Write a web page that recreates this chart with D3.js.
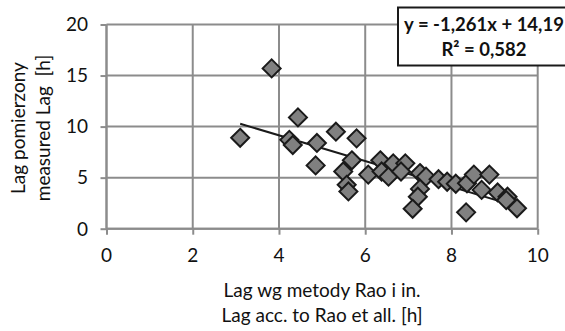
<!DOCTYPE html>
<html>
<head>
<meta charset="utf-8">
<script src="https://cdn.jsdelivr.net/npm/d3@7"></script>
<style>
  body { margin: 0; background: #fff; }
  text { font-family: Lato, "Open Sans", sans-serif; fill: #111; white-space: pre; }
  .grid line { stroke: #8c8c8c; stroke-width: 2; }
  .axis path, .axis line { stroke: #8c8c8c; stroke-width: 2; }
  .tick-label { font-size: 19px; }
  .title { font-size: 19px; }
  .eq { font-size: 18.5px; font-weight: bold; }
</style>
</head>
<body>
<div id="chart"></div>
<script>
// measured lag vs lag by Rao et al.
const lagRao = [3.1, 3.83, 4.44, 4.24, 4.32, 4.88, 4.85, 5.32, 5.8, 5.69, 5.49, 5.57, 5.61,
  6.07, 6.35, 6.38, 6.54, 6.65, 6.93, 6.83, 7.27, 7.41, 7.27, 7.22, 7.1, 7.7, 7.9, 8.1,
  8.36, 8.52, 8.88, 8.7, 9.07, 9.3, 9.27, 9.52, 8.34];
const lagMeasured = [8.9, 15.7, 10.9, 8.7, 8.2, 8.4, 6.2, 9.5, 8.85, 6.7, 5.6, 4.3, 3.65,
  5.3, 6.7, 5.6, 5.1, 6.4, 6.4, 5.6, 5.45, 5.1, 3.9, 3.13, 1.95, 4.85, 4.6, 4.4,
  4.45, 5.3, 5.3, 3.8, 3.55, 3.13, 2.8, 2.0, 1.6];
const xTicks = [0, 2, 4, 6, 8, 10];
const yTicks = [0, 5, 10, 15, 20];
const trendSlope = -1.261;
const trendIntercept = 14.19;
const eqLines = ["y = -1,261x + 14,19", "R² = 0,582"];
const xTitle = ["Lag wg metody Rao i in.", "Lag acc. to Rao et all. [h]"];
const yTitle = ["Lag pomierzony", "measured Lag  [h]"];

const width = 565, height = 331;
const plotLeft = 106.5, plotRight = 537.7, plotTop = 24.5, plotBottom = 228.7;

const x = d3.scaleLinear().domain([0, 10]).range([plotLeft, plotRight]);
const y = d3.scaleLinear().domain([0, 20]).range([plotBottom, plotTop]);

const svg = d3.select("#chart").append("svg")
  .attr("width", width)
  .attr("height", height);

// gridlines
const grid = svg.append("g").attr("class", "grid");
grid.selectAll("line.h").data(yTicks).enter().append("line")
  .attr("class", "h")
  .attr("x1", plotLeft).attr("x2", plotRight)
  .attr("y1", d => y(d)).attr("y2", d => y(d));
grid.selectAll("line.v").data(xTicks).enter().append("line")
  .attr("class", "v")
  .attr("x1", d => x(d)).attr("x2", d => x(d))
  .attr("y1", plotTop).attr("y2", plotBottom);

// axes
const xAxis = svg.append("g").attr("class", "axis")
  .attr("transform", "translate(0," + plotBottom + ")")
  .call(d3.axisBottom(x).tickValues(xTicks).tickSize(6).tickFormat(""));
const yAxis = svg.append("g").attr("class", "axis")
  .attr("transform", "translate(" + plotLeft + ",0)")
  .call(d3.axisLeft(y).tickValues(yTicks).tickSize(6).tickFormat(""));
xAxis.select(".domain").attr("d", "M" + plotLeft + ",0H" + plotRight);
yAxis.select(".domain").attr("d", "M0," + plotTop + "V" + plotBottom);

svg.selectAll("text.xt").data(xTicks).enter().append("text")
  .attr("class", "tick-label")
  .attr("x", d => x(d))
  .attr("y", 262)
  .attr("text-anchor", "middle")
  .text(d => d);

svg.selectAll("text.yt").data(yTicks).enter().append("text")
  .attr("class", "tick-label")
  .attr("x", 88)
  .attr("y", d => y(d))
  .attr("dy", "0.36em")
  .attr("text-anchor", "end")
  .text(d => d);

// trendline over the data range
const xExt = d3.extent(lagRao);
svg.append("line")
  .attr("x1", x(xExt[0])).attr("y1", y(trendSlope * xExt[0] + trendIntercept))
  .attr("x2", x(xExt[1])).attr("y2", y(trendSlope * xExt[1] + trendIntercept))
  .attr("stroke", "#1a1a1a")
  .attr("stroke-width", 2);

// diamonds
const diamond = "M0,-9L9,0L0,9L-9,0Z";
svg.selectAll("path.pt").data(lagRao).enter().append("path")
  .attr("class", "pt")
  .attr("d", diamond)
  .attr("transform", (d, i) => "translate(" + x(d) + "," + y(lagMeasured[i]) + ")")
  .attr("fill", "#808080")
  .attr("stroke", "#1a1a1a")
  .attr("stroke-width", 2);

// equation box
svg.append("rect")
  .attr("x", 398).attr("y", 7.5)
  .attr("width", 172).attr("height", 58)
  .attr("fill", "#fff")
  .attr("stroke", "#1a1a1a")
  .attr("stroke-width", 2);
svg.selectAll("text.eq").data(eqLines).enter().append("text")
  .attr("class", "eq")
  .attr("x", 484)
  .attr("y", (d, i) => 31 + i * 25)
  .attr("text-anchor", "middle")
  .text(d => d);

// axis titles
svg.selectAll("text.xtitle").data(xTitle).enter().append("text")
  .attr("class", "title")
  .attr("x", (plotLeft + plotRight) / 2)
  .attr("y", (d, i) => 297 + i * 24.5)
  .attr("text-anchor", "middle")
  .text(d => d);

svg.selectAll("text.ytitle").data(yTitle).enter().append("text")
  .attr("class", "title")
  .attr("text-anchor", "middle")
  .attr("transform", (d, i) => "translate(" + (25 + i * 25) + "," + 128 + ") rotate(-90)")
  .text(d => d);
</script>
</body>
</html>
